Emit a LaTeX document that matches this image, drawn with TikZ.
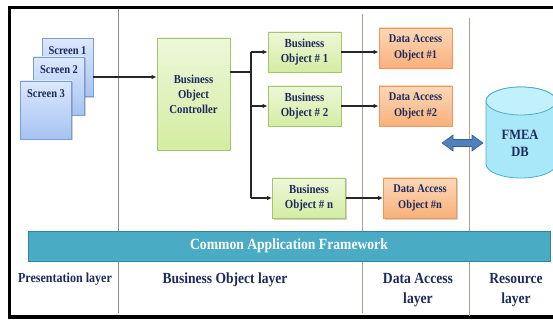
\documentclass[tikz,border=0pt]{standalone}
\usepackage{fontspec}
\setmainfont{Liberation Serif}[FakeStretch=0.88]
\usetikzlibrary{arrows.meta,shadows,calc}
\definecolor{ink}{HTML}{1F2A5C}
\definecolor{scrtop}{HTML}{DCE8FC}
\definecolor{scrbot}{HTML}{A6C3F3}
\definecolor{scrline}{HTML}{7B9DD0}
\definecolor{grtop}{HTML}{EEF7DA}
\definecolor{grbot}{HTML}{D3EDA2}
\definecolor{grline}{HTML}{A6C46A}
\definecolor{ortop}{HTML}{FCD8B8}
\definecolor{orbot}{HTML}{F9B07A}
\definecolor{orline}{HTML}{E79A5A}
\definecolor{teal}{HTML}{4AABC5}
\definecolor{tealline}{HTML}{31869E}
\definecolor{dbfill}{HTML}{A9E8F8}
\definecolor{dbtop}{HTML}{C2F0FB}
\definecolor{dbline}{HTML}{4BAFC9}
\definecolor{dblarrow}{HTML}{4F81BD}
\definecolor{dblarrowline}{HTML}{385D8A}
\definecolor{graysep}{HTML}{8C8C8C}
\definecolor{brownsep}{HTML}{B39C98}
\tikzset{
  boxshadow/.style={drop shadow={shadow xshift=1pt, shadow yshift=-1.5pt, opacity=.3, fill=black!60}},
  screenbox/.style={draw=scrline, line width=0.8pt, top color=scrtop, bottom color=scrbot,
    minimum width=51pt, minimum height=58pt, inner sep=0pt, boxshadow},
  scrtext/.style={text=ink, font=\bfseries\fontsize{11.9}{13}\selectfont, inner sep=0pt},
  greenbox/.style={draw=grline, line width=0.8pt, top color=grtop, bottom color=grbot,
    minimum width=73pt, minimum height=40pt, inner sep=0pt, align=center, text=ink,
    font=\bfseries\fontsize{12.3}{15.5}\selectfont, boxshadow},
  orangebox/.style={draw=orline, line width=0.8pt, top color=ortop, bottom color=orbot,
    minimum width=73pt, minimum height=40pt, inner sep=0pt, align=center, text=ink,
    font=\bfseries\fontsize{11.8}{15.5}\selectfont, boxshadow},
  layertext/.style={text=ink, align=center, inner sep=0pt},
  link/.style={draw=black!85, line width=1.4pt},
  arr/.style={link, -{Latex[length=5pt,width=4.5pt]}},
  sepline/.style={line width=1pt},
}
\begin{document}
\begin{tikzpicture}[x=1pt,y=-1pt]
\useasboundingbox (0,0) rectangle (553,320);
\clip (0,0) rectangle (553,320);

% outer frame
\draw[line width=3.5pt, black] (9.5,7.5) rectangle (570,317);

% layer separators
\draw[sepline, graysep] (118,9) -- (118,313);
\draw[sepline, brownsep] (362,14) -- (362,313);
\draw[sepline, brownsep] (469,18) -- (469,316);

% common framework bar
\node[draw=tealline, line width=0.8pt, fill=teal, minimum width=522pt, minimum height=30pt,
  inner sep=0pt, text=white, font=\bfseries\fontsize{15.5}{17}\selectfont]
  (caf) at (289,246) {Common Application Framework};

% presentation layer screens
\node[screenbox] (s1) at (67.5,67.5) {};
\node[scrtext] (s1t) at ($(s1.north)+(0,13)$) {Screen 1};
\node[screenbox] (s2) at (59,86) {};
\node[scrtext] (s2t) at ($(s2.north)+(0,13)$) {Screen 2};
\node[screenbox] (s3) at (46,110) {};
\node[scrtext] (s3t) at ($(s3.north)+(0,13)$) {Screen 3};

% business object layer
\node[greenbox, minimum height=112pt, font=\bfseries\fontsize{12.2}{15}\selectfont]
  (boc) at (193.5,94) {Business\\Object\\Controller};
\node[greenbox] (bo1) at (304.5,52) {Business\\Object \# 1};
\node[greenbox] (bo2) at (304.5,106) {Business\\Object \# 2};
\node[greenbox] (bon) at (309,198) {Business\\Object \# n};

% data access layer
\node[orangebox] (dao1) at (415.5,48) {Data Access\\Object \#1};
\node[orangebox] (dao2) at (415.5,106) {Data Access\\Object \#2};
\node[orangebox] (daon) at (420,198) {Data Access\\Object \#n};

% resource layer: database cylinder (top rim centred at y=101, base rim at y=164)
\filldraw[fill=dbfill, draw=dbline, line width=0.8pt]
  (486,101) -- (486,164)
  arc[start angle=180, end angle=360, x radius=35pt, y radius=14pt]
  -- (556,101)
  arc[start angle=0, end angle=180, x radius=35pt, y radius=14pt] -- cycle;
\filldraw[fill=dbtop, draw=dbline, line width=0.8pt]
  (521,101) ellipse[x radius=35pt, y radius=14pt];
\node[text=ink, align=center, inner sep=0pt, font=\bfseries\fontsize{14.2}{17.5}\selectfont]
  (dbt) at (520,143.5) {FMEA\\DB};

% data access <-> database
\coordinate (dx) at (462.5,143);
\draw[fill=dblarrow, draw=dblarrowline, line width=0.6pt]
  ($(dx)+(-20.5,0)$) -- ($(dx)+(-9.5,-8)$) -- ($(dx)+(-9.5,-3.5)$) -- ($(dx)+(9.5,-3.5)$)
  -- ($(dx)+(9.5,-8)$) -- ($(dx)+(20.5,0)$) -- ($(dx)+(9.5,8)$) -- ($(dx)+(9.5,3.5)$)
  -- ($(dx)+(-9.5,3.5)$) -- ($(dx)+(-9.5,8)$) -- cycle;

% connectors
\coordinate (scr) at ([yshift=-9.5pt]s1.east);
\draw[arr] (scr) -- (scr -| boc.west);
\coordinate (bocout) at ([yshift=22pt]boc.east);
\coordinate (trunk) at (251,72);
\draw[link] (bocout) -- (trunk);
\draw[link] (trunk |- bo1.west) -- (trunk |- bon.west);
\draw[arr] (trunk |- bo1.west) -- (bo1.west);
\draw[arr] (trunk |- bo2.west) -- (bo2.west);
\draw[arr] (trunk |- bon.west) -- (bon.west);
\draw[arr] (bo1.east) -- (bo1.east -| dao1.west);
\draw[arr] (bo2.east) -- (bo2.east -| dao2.west);
\draw[arr] (bon.east) -- (bon.east -| daon.west);

% layer captions
\node[layertext, font=\bfseries\fontsize{13.7}{15}\selectfont] (lp) at (65,279) {Presentation layer};
\node[layertext, font=\bfseries\fontsize{15.4}{17}\selectfont] (lb) at (225,280) {Business Object layer};
\node[layertext, font=\bfseries\fontsize{15.5}{20}\selectfont] (ld) at (418,290) {Data Access\\layer};
\node[layertext, font=\bfseries\fontsize{15.4}{20}\selectfont] (lr) at (516,290) {Resource\\layer};
\end{tikzpicture}
\end{document}
